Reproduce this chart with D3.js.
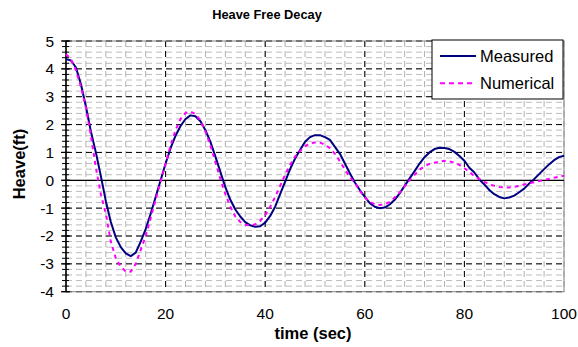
<!DOCTYPE html>
<html>
<head>
<meta charset="utf-8">
<script src="https://cdn.jsdelivr.net/npm/d3@7/dist/d3.min.js"></script>
<style>
  html, body { margin: 0; padding: 0; background: #fff; }
  svg { display: block; font-family: "Liberation Sans", Arial, sans-serif; }
</style>
</head>
<body>
<svg id="chart" width="578" height="347"></svg>
<script>
// Heave free-decay record, sampled once per second
const time = d3.range(0, 101);

const measured = [
  4.35, 4.30, 4.05, 3.45, 2.65, 1.75, 1.00, 0.15, -0.75, -1.50,
  -2.05, -2.40, -2.62, -2.72, -2.60, -2.20, -1.75, -1.20, -0.60, 0.00,
  0.60, 1.15, 1.60, 1.95, 2.20, 2.33, 2.30, 2.12, 1.80, 1.38,
  0.85, 0.30, -0.25, -0.70, -1.05, -1.30, -1.50, -1.62, -1.67, -1.65,
  -1.52, -1.28, -0.95, -0.50, -0.05, 0.40, 0.78, 1.09, 1.38, 1.55,
  1.62, 1.62, 1.55, 1.45, 1.20, 0.95, 0.60, 0.25, -0.08, -0.35,
  -0.60, -0.82, -0.95, -1.00, -0.98, -0.87, -0.70, -0.47, -0.20, 0.07,
  0.33, 0.60, 0.83, 1.00, 1.12, 1.17, 1.16, 1.12, 1.02, 0.87,
  0.70, 0.45, 0.28, 0.03, -0.15, -0.35, -0.50, -0.60, -0.65, -0.62,
  -0.55, -0.43, -0.30, -0.12, 0.04, 0.22, 0.40, 0.57, 0.72, 0.83,
  0.88
];

const numerical = [
  4.53, 4.35, 3.95, 3.35, 2.60, 1.60, 0.45, -0.50, -1.20, -2.20,
  -2.80, -3.10, -3.27, -3.28, -3.00, -2.50, -2.00, -1.35, -0.70, -0.05,
  0.60, 1.25, 1.80, 2.20, 2.42, 2.46, 2.38, 2.15, 1.75, 1.25,
  0.65, 0.05, -0.50, -0.95, -1.30, -1.50, -1.60, -1.62, -1.58, -1.45,
  -1.25, -0.95, -0.60, -0.20, 0.20, 0.55, 0.85, 1.05, 1.22, 1.33,
  1.36, 1.35, 1.28, 1.15, 0.95, 0.68, 0.38, 0.12, -0.10, -0.38,
  -0.62, -0.77, -0.86, -0.89, -0.86, -0.78, -0.62, -0.44, -0.22, 0.00,
  0.20, 0.38, 0.50, 0.59, 0.63, 0.67, 0.70, 0.68, 0.63, 0.55,
  0.43, 0.30, 0.15, 0.05, -0.06, -0.14, -0.20, -0.24, -0.26, -0.26,
  -0.24, -0.20, -0.15, -0.11, -0.07, -0.03, 0.01, 0.05, 0.09, 0.13,
  0.16
];

const seriesNames = ["Measured", "Numerical"];
const xTicks = [0, 20, 40, 60, 80, 100];
const yTicks = [-4, -3, -2, -1, 0, 1, 2, 3, 4, 5];
const xMinorTicks = d3.range(0, 101, 4);
const yMinorTicks = d3.range(-20, 26).map(d => d / 5);

const svg = d3.select("#chart");

const plot = { left: 66, right: 564, top: 41, bottom: 291.7 };
const x = d3.scaleLinear().domain([0, 100]).range([plot.left, plot.right]);
const y = d3.scaleLinear().domain([-4, 5]).range([plot.bottom, plot.top]);

// Minor gridlines
const grid = svg.append("g");
grid.selectAll("line.hminor").data(yMinorTicks).join("line")
  .attr("x1", plot.left).attr("x2", plot.right)
  .attr("y1", d => y(d)).attr("y2", d => y(d))
  .attr("stroke", "#bdbdbd").attr("stroke-width", 1)
  .attr("stroke-dasharray", "6,4");
grid.selectAll("line.vminor").data(xMinorTicks).join("line")
  .attr("x1", d => x(d)).attr("x2", d => x(d))
  .attr("y1", plot.top).attr("y2", plot.bottom)
  .attr("stroke", "#b0b0b0").attr("stroke-width", 1)
  .attr("stroke-dasharray", "6,4");

// Major gridlines
grid.selectAll("line.hmajor").data(yTicks.filter(d => d !== 0)).join("line")
  .attr("x1", plot.left).attr("x2", plot.right)
  .attr("y1", d => y(d)).attr("y2", d => y(d))
  .attr("stroke", "#000").attr("stroke-width", 1)
  .attr("stroke-dasharray", "6,4");
grid.selectAll("line.vmajor").data(xTicks.slice(1, -1)).join("line")
  .attr("x1", d => x(d)).attr("x2", d => x(d))
  .attr("y1", plot.top).attr("y2", plot.bottom)
  .attr("stroke", "#000").attr("stroke-width", 1)
  .attr("stroke-dasharray", "6,4");

// Plot area border
svg.append("rect")
  .attr("x", plot.left).attr("y", plot.top)
  .attr("width", plot.right - plot.left).attr("height", plot.bottom - plot.top)
  .attr("fill", "none").attr("stroke", "#808080").attr("stroke-width", 1);

// Horizontal axis line at zero
svg.append("line")
  .attr("x1", plot.left).attr("x2", plot.right)
  .attr("y1", y(0)).attr("y2", y(0))
  .attr("stroke", "#000").attr("stroke-width", 1.2);

// Vertical axis with crossing ticks
const yAxis = svg.append("g");
yAxis.append("line")
  .attr("x1", plot.left).attr("x2", plot.left)
  .attr("y1", plot.top).attr("y2", plot.bottom)
  .attr("stroke", "#000").attr("stroke-width", 1.5);
yAxis.selectAll("line.minor").data(yMinorTicks).join("line")
  .attr("x1", plot.left - 4).attr("x2", plot.left + 3)
  .attr("y1", d => y(d)).attr("y2", d => y(d))
  .attr("stroke", "#000").attr("stroke-width", 1);
yAxis.selectAll("line.major").data(yTicks).join("line")
  .attr("x1", plot.left - 5).attr("x2", plot.left + 4)
  .attr("y1", d => y(d)).attr("y2", d => y(d))
  .attr("stroke", "#000").attr("stroke-width", 1.2);
yAxis.selectAll("text").data(yTicks).join("text")
  .attr("x", 54).attr("y", d => y(d) + 5.5)
  .attr("text-anchor", "end")
  .attr("font-size", 15.5)
  .text(d => d);

// Horizontal tick labels along the bottom
svg.append("g").selectAll("text").data(xTicks).join("text")
  .attr("x", d => x(d)).attr("y", 319)
  .attr("text-anchor", "middle")
  .attr("font-size", 15.5)
  .text(d => d);

// Series lines
const line = d3.line()
  .x((d, i) => x(time[i]))
  .y(d => y(d));

svg.append("path").datum(measured)
  .attr("d", line)
  .attr("fill", "none").attr("stroke", "#000080").attr("stroke-width", 2)
  .attr("stroke-linejoin", "round");

svg.append("path").datum(numerical)
  .attr("d", line)
  .attr("fill", "none").attr("stroke", "#ff00ff").attr("stroke-width", 2)
  .attr("stroke-dasharray", "4,4");

// Titles
svg.append("text")
  .attr("x", 267).attr("y", 19)
  .attr("text-anchor", "middle")
  .attr("font-size", 12.8).attr("font-weight", "bold")
  .text("Heave Free Decay");

svg.append("text")
  .attr("x", 313).attr("y", 339)
  .attr("text-anchor", "middle")
  .attr("font-size", 16.5).attr("font-weight", "bold")
  .text("time (sec)");

svg.append("text")
  .attr("transform", "translate(25,164) rotate(-90)")
  .attr("text-anchor", "middle")
  .attr("font-size", 16.5).attr("font-weight", "bold")
  .text("Heave(ft)");

// Legend
const legend = svg.append("g");
legend.append("rect")
  .attr("x", 432).attr("y", 40).attr("width", 131).attr("height", 59)
  .attr("fill", "#fff").attr("stroke", "#000").attr("stroke-width", 1);
const legendStyles = [
  { color: "#000080", dash: null },
  { color: "#ff00ff", dash: "5,4" }
];
seriesNames.forEach((name, i) => {
  const ly = 56 + i * 27.3;
  legend.append("line")
    .attr("x1", 440).attr("x2", 476).attr("y1", ly).attr("y2", ly)
    .attr("stroke", legendStyles[i].color).attr("stroke-width", 2)
    .attr("stroke-dasharray", legendStyles[i].dash);
  legend.append("text")
    .attr("x", 480).attr("y", ly + 6)
    .attr("font-size", 16.5)
    .text(name);
});
</script>
</body>
</html>
